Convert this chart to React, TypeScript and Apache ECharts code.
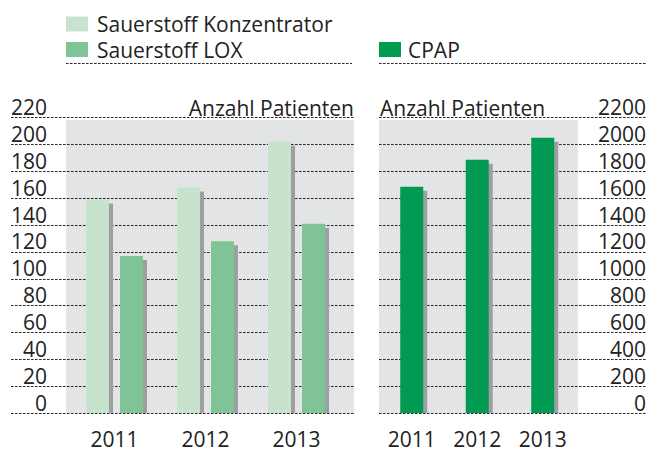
import React, { useEffect, useRef } from "react";
import * as echarts from "echarts";

const years = ["2011", "2012", "2013"];
const konzentrator = [159, 168, 202];
const lox = [117, 128, 141];
const cpap = [1685, 1887, 2051];
const leftTicks = { min: 0, max: 220, interval: 20 };
const rightTicks = { min: 0, max: 2200, interval: 200 };
const axisTitle = "Anzahl Patienten";
const names = ["Sauerstoff Konzentrator", "Sauerstoff LOX", "CPAP"];

const FONT = "'Open Sans', sans-serif";
const TXT = "#222222";
const C_KONZ = "#c7e3cd";
const C_LOX = "#80c397";
const C_CPAP = "#009a53";
const C_SHADOW = "#9e9fa1";
const C_BG = "#e3e4e6";
const C_LINE = "#2a2a2a";
const BW = 23;
const GAP = 11;
const SH = 4;

const TOP = 117.7;
const H = 295.3;

function shadowSeries(values: number[], axisIdx: number, barIndex: number, barCount: number) {
  return {
    type: "custom",
    xAxisIndex: axisIdx,
    yAxisIndex: axisIdx,
    z: 1,
    silent: true,
    data: values.map((v, i) => [i, v]),
    renderItem: (_p: any, api: any) => {
      const ci = api.value(0);
      const v = api.value(1);
      const top = api.coord([ci, v]);
      const base = api.coord([ci, 0]);
      const groupW = barCount * BW + (barCount - 1) * GAP;
      const x = top[0] - groupW / 2 + barIndex * (BW + GAP) + SH;
      return {
        type: "rect",
        shape: { x, y: top[1] + SH, width: BW, height: base[1] - top[1] - SH },
        style: { fill: C_SHADOW },
      };
    },
  };
}

const splitLine = {
  show: true,
  lineStyle: { color: C_LINE, type: [2.6, 1.4], width: 1 },
};

export default function App() {
  const ref = useRef<HTMLDivElement>(null);
  useEffect(() => {
    if (!ref.current) return;
    const chart = echarts.init(ref.current, undefined, { renderer: "svg" });
    const labelStyle = { fontFamily: FONT, fontSize: 21, lineHeight: 21, color: TXT };
    const plain = (v: number) => String(v);
    chart.setOption({
      animation: false,
      textStyle: { fontFamily: FONT },
      legend: [
        {
          left: 66,
          top: 13.5,
          orient: "vertical",
          padding: 0,
          itemWidth: 22,
          itemHeight: 15,
          itemGap: 4.5,
          icon: "rect",
          data: [names[0], names[1]],
          textStyle: { ...labelStyle, padding: [0, 0, 0, 4] },
        },
        {
          left: 379,
          top: 39,
          orient: "vertical",
          padding: 0,
          itemWidth: 22,
          itemHeight: 15,
          icon: "rect",
          data: [names[2]],
          textStyle: { ...labelStyle, padding: [0, 0, 0, 2] },
        },
      ],
      grid: [
        { left: 11, top: TOP, width: 343, height: H },
        { left: 69, top: TOP, width: 273, height: H },
        { left: 379, top: TOP, width: 267, height: H },
        { left: 379, top: TOP, width: 196.5, height: H },
      ],
      xAxis: [
        { gridIndex: 0, type: "value", min: 0, max: 1, show: false },
        {
          gridIndex: 1,
          type: "category",
          data: years,
          axisLine: { show: false },
          axisTick: { show: false },
          axisLabel: { ...labelStyle, margin: 15 },
        },
        { gridIndex: 2, type: "value", min: 0, max: 1, show: false },
        {
          gridIndex: 3,
          type: "category",
          data: years,
          axisLine: { show: false },
          axisTick: { show: false },
          axisLabel: { ...labelStyle, margin: 15 },
        },
      ],
      yAxis: [
        {
          gridIndex: 0,
          type: "value",
          ...leftTicks,
          axisLine: { show: false },
          axisTick: { show: false },
          axisLabel: { show: false },
          splitLine,
        },
        {
          gridIndex: 1,
          type: "value",
          ...leftTicks,
          axisLine: { show: false },
          axisTick: { show: false },
          splitLine: { show: false },
          axisLabel: { ...labelStyle, margin: 22, verticalAlign: "bottom", formatter: plain },
        },
        {
          gridIndex: 2,
          type: "value",
          position: "right",
          ...rightTicks,
          axisLine: { show: false },
          axisTick: { show: false },
          splitLine,
          axisLabel: { ...labelStyle, inside: true, margin: 0, verticalAlign: "bottom", formatter: plain },
        },
        {
          gridIndex: 3,
          type: "value",
          ...rightTicks,
          show: false,
          splitLine: { show: false },
        },
      ],
      graphic: [
        { type: "rect", z: -10, shape: { x: 66, y: 120, width: 288, height: 293 }, style: { fill: C_BG } },
        { type: "rect", z: -10, shape: { x: 379, y: 120, width: 199, height: 293 }, style: { fill: C_BG } },
        {
          type: "text",
          x: 354,
          y: 107.5,
          style: { text: axisTitle, align: "right", verticalAlign: "middle", font: `21px ${FONT}`, fill: TXT },
        },
        {
          type: "text",
          x: 380,
          y: 107.5,
          style: { text: axisTitle, align: "left", verticalAlign: "middle", font: `21px ${FONT}`, fill: TXT },
        },
        {
          type: "line",
          shape: { x1: 66, y1: 63.5, x2: 352, y2: 63.5 },
          style: { stroke: C_LINE, lineWidth: 1, lineDash: [2.6, 1.4] },
        },
        {
          type: "line",
          shape: { x1: 379, y1: 63.5, x2: 647, y2: 63.5 },
          style: { stroke: C_LINE, lineWidth: 1, lineDash: [2.6, 1.4] },
        },
      ],
      series: [
        shadowSeries(konzentrator, 1, 0, 2),
        shadowSeries(lox, 1, 1, 2),
        shadowSeries(cpap, 3, 0, 1),
        {
          name: names[0],
          type: "bar",
          xAxisIndex: 1,
          yAxisIndex: 1,
          barWidth: BW,
          barGap: "48%",
          z: 3,
          itemStyle: { color: C_KONZ },
          data: konzentrator,
        },
        {
          name: names[1],
          type: "bar",
          xAxisIndex: 1,
          yAxisIndex: 1,
          barWidth: BW,
          barGap: "48%",
          z: 3,
          itemStyle: { color: C_LOX },
          data: lox,
        },
        {
          name: names[2],
          type: "bar",
          xAxisIndex: 3,
          yAxisIndex: 3,
          barWidth: BW,
          z: 3,
          itemStyle: { color: C_CPAP },
          data: cpap,
        },
      ],
    });
    return () => chart.dispose();
  }, []);
  return (
    <div
      ref={ref}
      style={{ position: "absolute", left: 0, top: 0, width: 662, height: 453, background: "#ffffff" }}
    />
  );
}
